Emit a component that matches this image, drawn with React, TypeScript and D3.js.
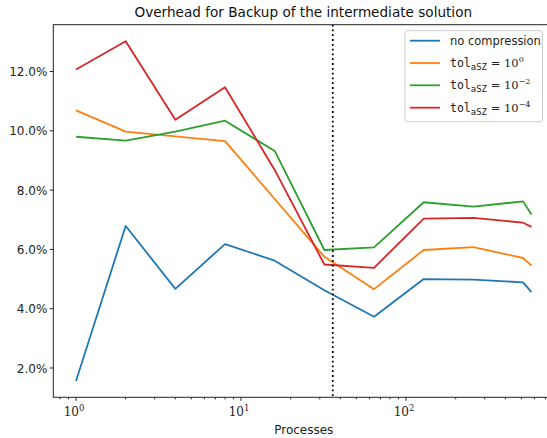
import React from "react";
import * as d3 from "d3";

const processes = [1, 2, 4, 8, 16, 32, 64, 128, 256, 512, 576];
const noCompression = [1.56, 6.79, 4.67, 6.18, 5.62, 4.62, 3.73, 5.0, 4.98, 4.89, 4.56];
const tol0 = [10.69, 9.97, 9.81, 9.65, 7.7, 5.75, 4.66, 5.98, 6.08, 5.71, 5.45];
const tol2 = [9.8, 9.67, 9.97, 10.34, 9.32, 5.98, 6.07, 7.59, 7.44, 7.62, 7.18];
const tol4 = [12.07, 13.02, 10.37, 11.47, 8.68, 5.49, 5.38, 7.04, 7.06, 6.9, 6.76];
const seriesNames = ["no compression", "tol0", "tol2", "tol4"];
const seriesExp = ["", "0", "\u22122", "\u22124"];
const colors = ["#1f77b4", "#ff7f0e", "#2ca02c", "#d62728"];
const yTicks = [2, 4, 6, 8, 10, 12];
const xMajor = [1, 10, 100];
const xMajorExp = ["0", "1", "2"];
const markerX = 36;

const W = 547, H = 438;
const left = 53.3, right = 554.3, top = 24.7, bottom = 397.3;

export default function App() {
  const x = d3.scaleLog().domain([1, 576]).range([76, 531.5]);
  const xs = d3.scaleLog().domain([x.invert(left), x.invert(right)]).range([left, right]);
  const y = d3.scaleLinear().domain([2, 12]).range([368, 71.5]);
  const all = [noCompression, tol0, tol2, tol4];
  const line = (vals: number[]) =>
    d3.line<number>().x((_, i) => xs(processes[i])).y((d) => y(d))(vals) || "";
  const minor: number[] = [];
  for (const dec of [0.1, 1, 10, 100]) for (let k = 2; k <= 9; k++) {
    const v = k * dec;
    if (xs(v) >= left && xs(v) <= W) minor.push(v);
  }
  const sans = "DejaVu Sans, sans-serif";
  const serif = "DejaVu Serif, serif";
  const mono = "DejaVu Sans Mono, monospace";
  const legRowY = [40.7, 63, 85.3, 107.7];
  return (
    <div style={{ position: "absolute", left: 0, top: 0 }}>
      <svg width={W} height={H} style={{ display: "block", background: "#fff" }}>
        <defs>
          <clipPath id="plot">
            <rect x={left} y={top} width={right - left} height={bottom - top} />
          </clipPath>
        </defs>
        <text x={(left + right) / 2 - 0.5} y={17} textAnchor="middle" fontFamily={sans} fontSize={13.6} fill="#111">
          Overhead for Backup of the intermediate solution
        </text>
        <g clipPath="url(#plot)">
          {all.map((vals, i) => (
            <path key={i} d={line(vals)} fill="none" stroke={colors[i]} strokeWidth={1.8} strokeLinejoin="round" />
          ))}
          <line x1={xs(markerX)} x2={xs(markerX)} y1={top} y2={bottom} stroke="#000" strokeWidth={1.8} strokeDasharray="1.8,3" />
        </g>
        <rect x={left} y={top} width={right - left} height={bottom - top} fill="none" stroke="#222" strokeWidth={1} />
        {yTicks.map((t) => (
          <g key={t}>
            <line x1={left - 3.5} x2={left} y1={y(t)} y2={y(t)} stroke="#222" />
            <text x={left - 6} y={y(t) + 4.5} textAnchor="end" fontFamily={sans} fontSize={12} fill="#222">
              {t.toFixed(1)}%
            </text>
          </g>
        ))}
        {xMajor.map((t, i) => (
          <g key={t}>
            <line x1={xs(t)} x2={xs(t)} y1={bottom} y2={bottom + 3.5} stroke="#222" />
            <text x={xs(t) - 2} y={bottom + 19} textAnchor="middle" fontFamily={serif} fontSize={12} fill="#222">
              10<tspan dy={-5} fontSize={8.5}>{xMajorExp[i]}</tspan>
            </text>
          </g>
        ))}
        {minor.map((t) => (
          <line key={t} x1={xs(t)} x2={xs(t)} y1={bottom} y2={bottom + 2} stroke="#222" />
        ))}
        <text x={(left + right) / 2} y={434} textAnchor="middle" fontFamily={sans} fontSize={12} fill="#222">
          Processes
        </text>
        <rect x={405} y={30.7} width={137.5} height={91} rx={2.5} fill="#fff" fillOpacity={0.8} stroke="#ccc" />
        {seriesNames.map((n, i) => (
          <g key={n}>
            <line x1={410} x2={440} y1={legRowY[i]} y2={legRowY[i]} stroke={colors[i]} strokeWidth={1.8} />
            {i === 0 ? (
              <text x={450} y={legRowY[i] + 4} fontFamily={sans} fontSize={11.5} fill="#222">{n}</text>
            ) : (
              <text x={450} y={legRowY[i] + 4} fontSize={11.5} fill="#222">
                <tspan fontFamily={mono}>tol</tspan>
                <tspan fontFamily={mono} fontSize={9} dy={3}>aSZ</tspan>
                <tspan fontFamily={serif} dy={-3}> = 10</tspan>
                <tspan fontFamily={serif} fontSize={8} dy={-5}>{seriesExp[i]}</tspan>
              </text>
            )}
          </g>
        ))}
      </svg>
    </div>
  );
}
